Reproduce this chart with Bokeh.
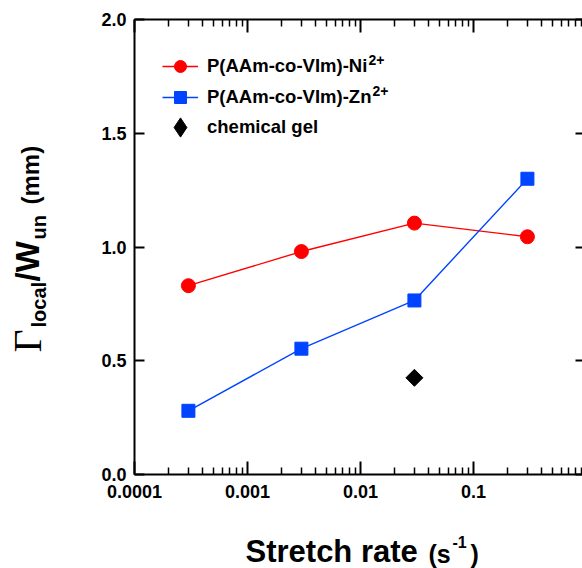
import math
from bokeh.plotting import figure
from bokeh.models import (FixedTicker, LogAxis, LinearAxis, Label, Legend,
                          LegendItem, Range1d, LogScale, LinearScale)
from bokeh.embed import file_html
from bokeh.resources import INLINE

# ---- data ----
rate = [0.0003, 0.003, 0.03, 0.3]
ni = [0.83, 0.98, 1.105, 1.045]
zn = [0.28, 0.553, 0.765, 1.30]
gel_rate = [0.03]
gel = [0.425]

x_major = [1e-4, 1e-3, 1e-2, 1e-1]
x_labels = ["0.0001", "0.001", "0.01", "0.1"]
x_minor = [k * 10.0 ** d for d in range(-4, 0) for k in range(2, 10)]
y_major = [0.0, 0.5, 1.0, 1.5, 2.0]
y_labels = ["0.0", "0.5", "1.0", "1.5", "2.0"]

XMIN, XMAX = 1e-4, 1.0
YMIN, YMAX = 0.0, 2.0

FONT = "Liberation Sans"
RED = "#ff0000"
BLUE = "#0044ff"

# ---- layout (canvas pixels) ----
W, H = 582, 568
BOX_L, BOX_R, BOX_T, BOX_B = 134, 586, 19, 474

dec = (BOX_R - BOX_L) / (math.log10(XMAX) - math.log10(XMIN))
x0 = 10 ** (math.log10(XMIN) - BOX_L / dec)
x1 = 10 ** (math.log10(XMAX) + (W - BOX_R) / dec)
upx = (BOX_B - BOX_T) / (YMAX - YMIN)
y0 = YMIN - (H - BOX_B) / upx
y1 = YMAX + BOX_T / upx

p = figure(width=W, height=H, x_range=Range1d(x0, x1),
           y_range=Range1d(y0, y1), x_axis_type="log", y_axis_type="linear",
           x_axis_location=None, y_axis_location=None,
           output_backend="svg", toolbar_location=None, min_border=0,
           background_fill_color="white", border_fill_color="white",
           outline_line_color=None)
p.x_scale = LogScale()
p.y_scale = LinearScale()
p.grid.visible = False

xt = FixedTicker(ticks=x_major, minor_ticks=x_minor)
yt = FixedTicker(ticks=y_major, minor_ticks=[])


def style_axis(ax, tick_in, labels=True):
    ax.axis_line_width = 2
    ax.axis_line_color = "black"
    ax.major_tick_line_width = 2
    ax.minor_tick_line_width = 1.5
    ax.major_tick_in = tick_in
    ax.major_tick_out = 0
    ax.minor_tick_in = 7
    ax.minor_tick_out = 0
    ax.major_tick_line_color = "black"
    ax.minor_tick_line_color = "black"
    if labels:
        ax.major_label_text_font = FONT
        ax.major_label_text_font_style = "bold"
        ax.major_label_text_font_size = "18px"
        ax.major_label_text_color = "black"
    else:
        ax.major_label_text_color = None


bx = LogAxis(ticker=xt, fixed_location=YMIN, bounds=(XMIN, XMAX),
             major_label_overrides={v: s for v, s in zip(x_major, x_labels)})
style_axis(bx, 13)
bx.major_label_standoff = 10
p.add_layout(bx, "below")

tx = LogAxis(ticker=xt, fixed_location=YMAX, bounds=(XMIN, XMAX))
style_axis(tx, 13, labels=False)
p.add_layout(tx, "above")

ly = LinearAxis(ticker=yt, fixed_location=XMIN, bounds=(YMIN, YMAX),
                major_label_overrides={v: s for v, s in zip(y_major, y_labels)})
style_axis(ly, 10)
ly.major_label_standoff = 8
p.add_layout(ly, "left")

ry = LinearAxis(ticker=yt, fixed_location=XMAX, bounds=(YMIN, YMAX))
style_axis(ry, 11, labels=False)
p.add_layout(ry, "right")

# ---- data ----
ni_line = p.line(rate, ni, line_color=RED, line_width=1.4)
ni_pts = p.scatter(rate, ni, marker="circle", size=14, fill_color=RED,
                   line_color=RED)
zn_line = p.line(rate, zn, line_color=BLUE, line_width=1.4)
zn_pts = p.scatter(rate, zn, marker="square", size=13, fill_color=BLUE,
                   line_color=BLUE)
gel_pts = p.scatter(gel_rate, gel, marker="square", angle=math.pi / 4,
                    size=12, fill_color="black", line_color="black")
# same point as a diamond marker, only used to draw the legend key
gel_key = p.scatter(gel_rate, gel, marker="diamond", size=18,
                    fill_color="black", line_color="black", visible=False)


def add_legend(label, renderers, cx, cy, gw, gh):
    lg = Legend(items=[LegendItem(label=label, renderers=renderers)],
                location=(int(cx - gw // 2), int(H - (cy + gh // 2))),
                glyph_width=gw, glyph_height=gh, label_height=gh,
                spacing=0, padding=0, margin=0,
                label_standoff=int(207 - (cx - gw // 2 + gw)),
                label_text_font=FONT, label_text_font_style="bold",
                label_text_font_size="18.5px", label_text_color="black",
                border_line_color=None, background_fill_alpha=0)
    p.add_layout(lg, "center")


add_legend("P(AAm-co-VIm)-Ni", [ni_line, ni_pts], 180, 66, 36, 30)
add_legend("P(AAm-co-VIm)-Zn", [zn_line, zn_pts], 180, 97, 36, 30)
add_legend("chemical gel", [gel_key], 180, 127, 48, 48)


def lab(text, x, y, size, angle=0.0, font=FONT, style="bold"):
    # (x, y): start of the text and its vertical middle, canvas pixels
    p.add_layout(Label(x=x, y=H - y, x_units="screen", y_units="screen",
                       text=text, text_font=font, text_font_size=f"{size}px",
                       text_font_style=style, angle=angle,
                       text_baseline="middle", text_align="left",
                       text_color="black"))


# legend superscripts
lab("2+", 368, 59, 14)
lab("2+", 372, 90, 14)

# x-axis title
lab("Stretch rate", 245, 551, 31)
lab("(s", 428, 553, 25)
lab("-1", 452, 541, 16)
lab(")", 470, 553, 25)

# y-axis title (rotated, reads bottom to top)
R = math.pi / 2
lab("\u0393", 27, 352, 40, angle=R, font="Liberation Serif", style="normal")
lab("local", 38, 327, 20, angle=R)
lab("/W", 27, 281, 33, angle=R)
lab("un", 38, 239, 20, angle=R)
lab("(mm)", 30, 204, 24, angle=R)

open("out.html", "w").write(file_html(p, INLINE))
